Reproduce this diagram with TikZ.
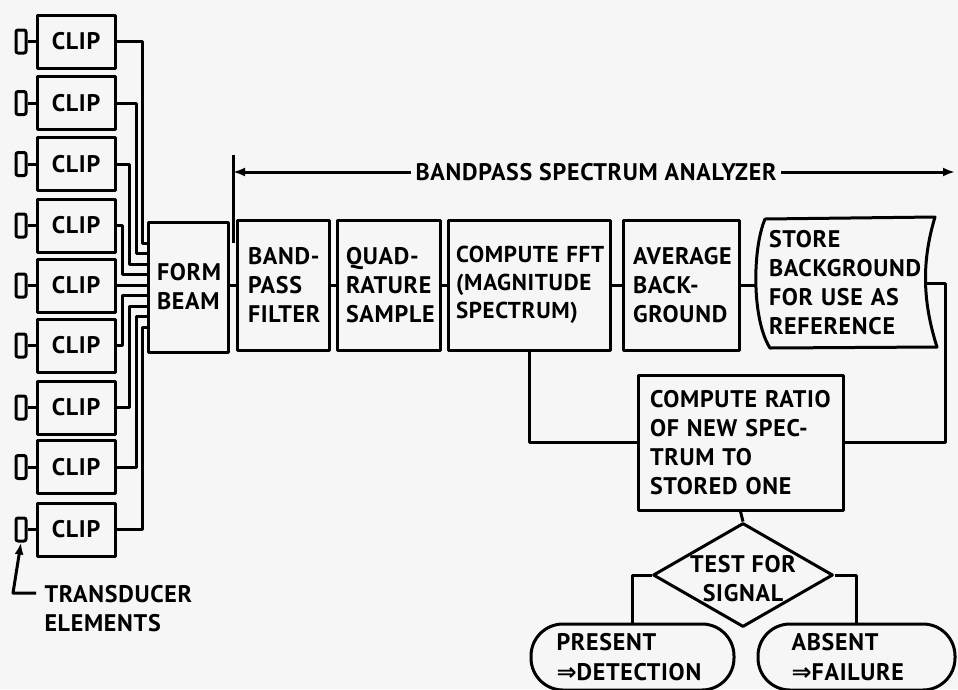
\documentclass[tikz,border=0pt]{standalone}
\usepackage{fontspec}
\setmainfont{PT Sans}[LetterSpace=3]
\newfontfamily\arrowfont{DejaVu Sans}
\newcommand{\dblarrow}{{\arrowfont\bfseries ⇒}}
\usetikzlibrary{arrows.meta,shapes.geometric}
\definecolor{paper}{RGB}{246,246,246}
\begin{document}
\begin{tikzpicture}[x=1pt,y=-1pt,line width=3pt,line join=round,
  every node/.style={font=\fontsize{24}{29}\selectfont\bfseries},
  box/.style={draw,rectangle,inner sep=0pt,align=left},
  clipbox/.style={draw,rectangle,inner sep=0pt,align=center,minimum width=78pt,minimum height=53pt},
  xducer/.style={draw,rectangle,rounded corners=2pt,inner sep=0pt,minimum width=10pt,minimum height=23pt},
  term/.style={draw,rectangle,rounded corners=32pt,inner sep=0pt,align=left,minimum height=66pt},
  tip/.style={-{Latex[length=12pt,width=9pt]}}]
\fill[paper] (0,0) rectangle (958,689);
\useasboundingbox (0,0) rectangle (958,689);

% clips and transducers
\foreach \i/\y in {1/41.5,2/103,3/164,4/225.5,5/285.5,6/345.5,7/407.5,8/467,9/529.5}{
  \node[clipbox] (c\i) at (76,\y) {CLIP};
  \node[xducer] (t\i) at (21,\y) {};
  \draw (t\i.east) -- (c\i.west);
}

% form beam
\node[box,minimum width=80pt,minimum height=130pt,text width=62pt] (form) at (188,287) {FORM\\BEAM};

% wires
\foreach \i/\wx/\ey in {1/142/243,2/136/253.5,3/129/264,4/122/274.5,6/122/295.5,7/129/306,8/136/316.5,9/142/327}{
  \draw (c\i.east) -| (\wx,\ey) -- (form.west |- 0,\ey);
}
\draw (c5.east) -- (form.west |- c5.east);

% main chain
\node[box,minimum width=92pt,minimum height=130pt,text width=70pt] (bpf) at (283,285) {\mbox{BAND-}\\PASS\\FILTER};
\node[box,minimum width=103pt,minimum height=130pt,text width=85pt] (quad) at (388.5,285) {\mbox{QUAD-}\\RATURE\\SAMPLE};
\node[box,minimum width=162pt,minimum height=130pt,text width=146pt,font=\fontsize{23}{28}\selectfont\bfseries] (fft) at (529,285) {\mbox{COMPUTE FFT}\\(MAGNITUDE\\SPECTRUM)};
\node[box,minimum width=116pt,minimum height=130pt,text width=96pt] (avg) at (681,285) {AVERAGE\\\mbox{BACK-}\\GROUND};
\node[inner sep=0pt,align=left,text width=160pt] (store) at (849,283) {STORE\\BACKGROUND\\\mbox{FOR USE AS}\\REFERENCE};
\draw (765,219) -- (935,217) .. controls (922,260) and (922,300) .. (937,347)
  -- (770,348) .. controls (752,320) and (752,250) .. (765,219) -- cycle;
\coordinate (storeW) at (756,285);
\coordinate (storeE) at (926,283);

\draw (form.east |- bpf.west) -- (bpf.west);
\draw (bpf.east) -- (quad.west);
\draw (quad.east) -- (fft.west);
\draw (fft.east) -- (avg.west);
\draw (avg.east) -- (storeW);

% bandpass bracket
\node[inner xsep=3pt] (bsa) at (596,172) {BANDPASS SPECTRUM ANALYZER};
\coordinate (brt) at (233,155);
\coordinate (brb) at (233,243);
\coordinate (bre) at (955,172);
\draw (brt) -- (brb);
\draw[tip] (bsa.west) -- (brt |- bsa.west);
\draw[tip] (bsa.east) -- (bre);

% ratio
\node[box,minimum width=205pt,minimum height=135pt,text width=181pt] (ratio) at (740.5,442.5) {\mbox{COMPUTE RATIO}\\\mbox{OF NEW SPEC-}\\\mbox{TRUM TO}\\\mbox{STORED ONE}};
\draw (fft.south) |- (ratio.west);
\draw (storeE) -- (945,283) |- (ratio.east);

% test
\node[draw,diamond,aspect=1.73,minimum width=180pt,minimum height=104pt,inner sep=0pt,
  label={[align=center,yshift=-4pt]center:\mbox{TEST FOR}\\SIGNAL}] (test) at (743,575) {};
\draw (ratio.south) -- (test.north);

% terminals
\node[term,minimum width=203pt,text width=152pt,font=\fontsize{24}{30}\selectfont\bfseries] (present) at (632.5,657) {PRESENT\\\dblarrow DETECTION};
\node[term,minimum width=197pt,text width=130pt,font=\fontsize{24}{30}\selectfont\bfseries] (absent) at (856.5,657) {ABSENT\\\dblarrow FAILURE};
\draw (test.west) -| (present.north);
\draw (test.east) -| (absent.north);

% transducer label
\node[align=left,anchor=north west,inner sep=0pt] (tlab) at (43,584) {TRANSDUCER\\ELEMENTS};
\coordinate (tl) at (36,593);
\draw[tip] (tl) -- (13,593) -- (t9.south);
\end{tikzpicture}
\end{document}
